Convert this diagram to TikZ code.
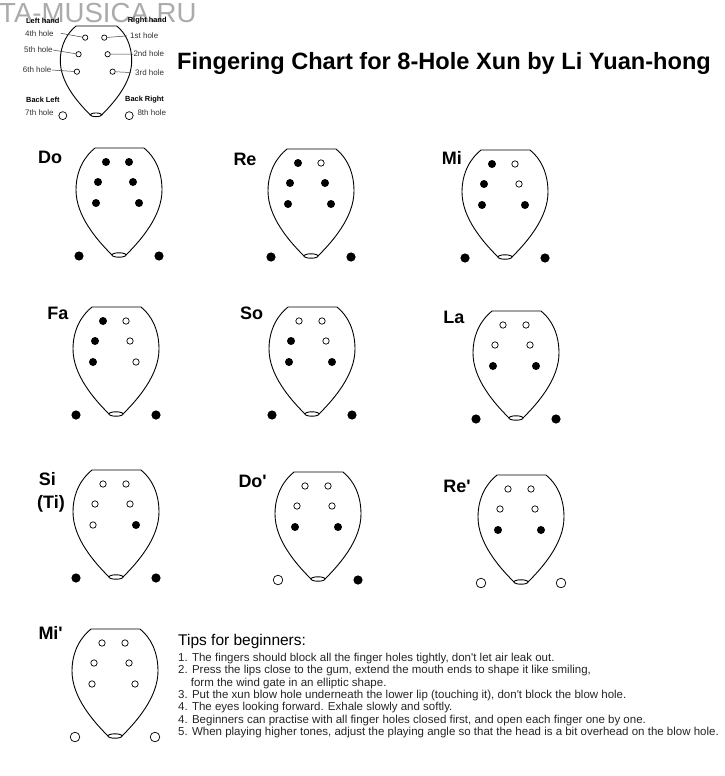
\documentclass[tikz,border=0pt]{standalone}
\usepackage{fontspec}
\setmainfont{Liberation Sans}[Ligatures=TeXOff]
\newcommand\xunfig[5][]{%
  \begin{scope}[shift={(#3,#4)},#1]
    \draw[body] (-24,0) -- (25,0) .. controls (35,8) and (43,22) .. (43,42)
      .. controls (43,68) and (22,92) .. (7,107);
    \draw[body] (-7,107) .. controls (-22,92) and (-43,68) .. (-43,42)
      .. controls (-43,22) and (-34,8) .. (-24,0);
    \draw[body] (0,107) ellipse (7 and 2.2);
    \coordinate (#2h1) at (-13,14);
    \coordinate (#2h2) at (10,14);
    \coordinate (#2h3) at (-21,34);
    \coordinate (#2h4) at (14,34);
    \coordinate (#2h5) at (-23,55);
    \coordinate (#2h6) at (20,55);
    \coordinate (#2h7) at (-40,108);
    \coordinate (#2h8) at (40,108);
    \foreach \st [count=\i] in {#5} {%
      \ifnum\i<7
        \ifnum\st=1 \fill[closedhole] (#2h\i) circle (4); \else \draw[openhole] (#2h\i) circle (3.2); \fi
      \else
        \ifnum\st=1 \fill[closedhole] (#2h\i) circle (4.6); \else \draw[openhole] (#2h\i) circle (4.8); \fi
      \fi}
  \end{scope}}
\begin{document}
\begin{tikzpicture}[x=1pt,y=-1pt,
  body/.style={draw=black,line width=0.9pt},
  closedhole/.style={fill=black},
  openhole/.style={draw=black,line width=0.7pt,fill=white},
  notelabel/.style={anchor=base west,inner sep=0pt,font=\fontsize{18}{20}\selectfont\bfseries},
  legendtext/.style={anchor=west,inner sep=0pt,font=\fontsize{8}{9}\selectfont,text=black!80},
  legendhead/.style={anchor=west,inner sep=0pt,font=\fontsize{7.4}{9}\selectfont\bfseries},
  leader/.style={draw=black!75,line width=0.5pt},
  tipline/.style={anchor=base west,inner sep=0pt,font=\fontsize{11.5}{12}\selectfont,text=black!85}]
\useasboundingbox[fill=white] (0,0) rectangle (724,776);

% watermark
\node[anchor=base west,inner sep=0pt,text=black!33,font=\fontsize{27.6}{28}\selectfont] (wm) at (-1,22.3) {TA-MUSICA.RU};

% legend
\xunfig[scale=0.83]{lg}{96}{26}{0,0,0,0,0,0,0,0}
\node[legendhead] (lgLH) at (26,20.7) {Left hand};
\node[legendhead] (lgRH) at (127.7,20.7) {Right hand};
\node[legendtext] (lg4) at (25,33.3) {4th hole};
\node[legendtext] (lg5) at (24,50) {5th hole};
\node[legendtext] (lg6) at (22.7,70) {6th hole};
\node[legendtext] (lg1) at (130,35.7) {1st hole};
\node[legendtext] (lg2) at (133.3,54) {2nd hole};
\node[legendtext] (lg3) at (135,72.7) {3rd hole};
\node[legendhead] (lgBL) at (26,100) {Back Left};
\node[legendhead] (lgBR) at (125,100) {Back Right};
\node[legendtext] (lg7) at (25,112.3) {7th hole};
\node[legendtext] (lg8) at (137.3,112.3) {8th hole};
\draw[leader,shorten >=3pt] ([xshift=7pt]lg4.east) -- (lgh1);
\draw[leader,shorten >=3pt] (lg5.east) -- (lgh3);
\draw[leader,shorten >=3pt] (lg6.east) -- (lgh5);
\draw[leader,shorten <=3pt,shorten >=3pt] (lgh2) -- (lg1.west);
\draw[leader,shorten <=3pt] (lgh4) -- (lg2.west);
\draw[leader,shorten <=3pt,shorten >=4pt] (lgh6) -- (lg3.west);

% title
\node[anchor=base west,inner sep=0pt,font=\fontsize{23.6}{24}\selectfont\bfseries] (title) at (177,70)
  {Fingering Chart for 8-Hole Xun by Li Yuan-hong};

% fingering diagrams
\xunfig{do}{119}{148}{1,1,1,1,1,1,1,1}
\xunfig{re}{311}{149}{1,0,1,1,1,1,1,1}
\xunfig{mi}{505}{150}{1,0,1,0,1,1,1,1}
\xunfig{fa}{116}{307}{1,0,1,0,1,0,1,1}
\xunfig{so}{312}{307}{0,0,1,0,1,1,1,1}
\xunfig{la}{516}{311}{0,0,0,0,1,1,1,1}
\xunfig{si}{116}{470}{0,0,0,0,0,1,1,1}
\xunfig{dob}{318}{472}{0,0,0,0,1,1,0,1}
\xunfig{reb}{521}{475}{0,0,0,0,1,1,0,0}
\xunfig{mib}{115}{629}{0,0,0,0,0,0,0,0}

\node[notelabel] (ldo) at (38,163.4) {Do};
\node[notelabel] (lre) at (233.3,165.4) {Re};
\node[notelabel] (lmi) at (441.7,164.4) {Mi};
\node[notelabel] (lfa) at (47.2,319.8) {Fa};
\node[notelabel] (lso) at (240,319.8) {So};
\node[notelabel] (lla) at (443.2,323.2) {La};
\node[notelabel] (lsi) at (38.6,485.7) {Si};
\node[notelabel] (lti) at (37,508) {(Ti)};
\node[notelabel] (ldob) at (238.3,487.4) {Do'};
\node[notelabel] (lreb) at (443.2,492.5) {Re'};
\node[notelabel] (lmib) at (38.3,639) {Mi'};

% tips
\node[anchor=base west,inner sep=0pt,font=\fontsize{15.5}{16}\selectfont] (tipshead) at (178,645.3) {Tips for beginners:};
\node[tipline] (tip1) at (178,661.3) {1. The fingers should block all the finger holes tightly, don't let air leak out.};
\node[tipline] (tip2) at (178,673.6) {2. Press the lips close to the gum, extend the mouth ends to shape it like smiling,};
\node[tipline] (tip3) at (190.7,686.0) {form the wind gate in an elliptic shape.};
\node[tipline] (tip4) at (178,698.3) {3. Put the xun blow hole underneath the lower lip (touching it), don't block the blow hole.};
\node[tipline] (tip5) at (178,710.6) {4. The eyes looking forward. Exhale slowly and softly.};
\node[tipline] (tip6) at (178,723.0) {4. Beginners can practise with all finger holes closed first, and open each finger one by one.};
\node[tipline] (tip7) at (178,735.3) {5. When playing higher tones, adjust the playing angle so that the head is a bit overhead on the blow hole.};
\end{tikzpicture}
\end{document}
